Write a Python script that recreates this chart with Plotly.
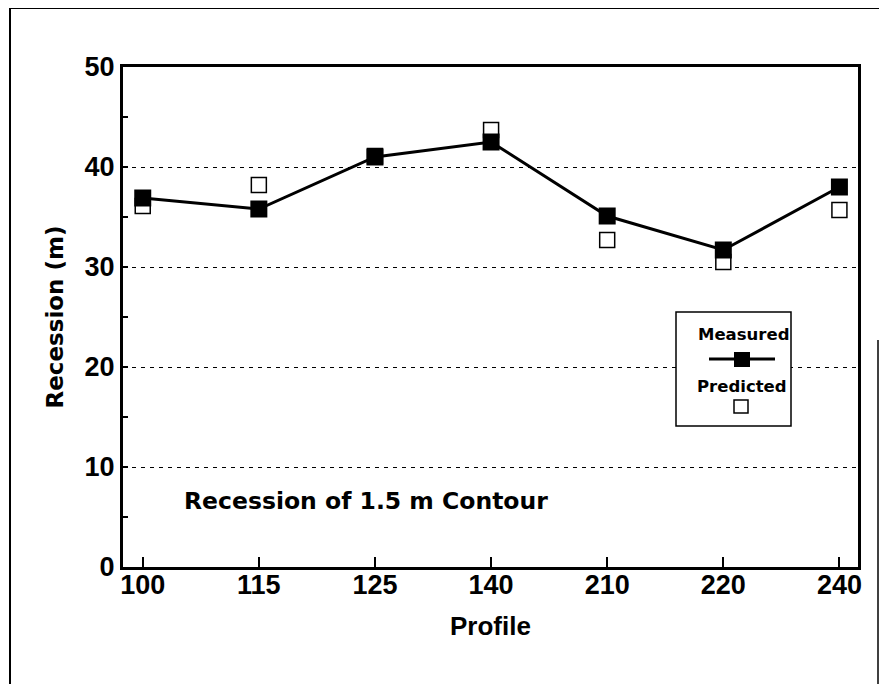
import plotly.graph_objects as go

profiles = ["100", "115", "125", "140", "210", "220", "240"]
measured = [36.9, 35.8, 41.0, 42.5, 35.1, 31.7, 38.0]
predicted = [36.1, 38.2, 41.1, 43.7, 32.7, 30.5, 35.7]
y_ticks = [0, 10, 20, 30, 40, 50]

WIN_W, WIN_H = 887, 692
OFF = 8  # page body margin on every side
W, H = WIN_W - 2 * OFF, WIN_H - 2 * OFF
L, R, T, B = 123, 858, 67, 567  # plot area in window pixels

def px(x):
    return (x - L) / (R - L)

def py(y):
    return (B - y) / (B - T)

ARIAL = "Liberation Sans, Arial, sans-serif"
WIDE = "DejaVu Sans, Verdana, sans-serif"

fig = go.Figure()
fig.add_trace(go.Scatter(
    x=profiles, y=predicted, mode="markers", name="Predicted",
    marker=dict(symbol="square", size=15, color="white",
                line=dict(color="black", width=1.5)),
))
fig.add_trace(go.Scatter(
    x=profiles, y=measured, mode="lines+markers", name="Measured",
    line=dict(color="black", width=3),
    marker=dict(symbol="square", size=17, color="black"),
))

shapes = [
    # outer frame
    dict(type="line", xref="paper", yref="paper",
         x0=px(10), x1=px(10), y0=py(690), y1=py(8),
         line=dict(color="black", width=2), layer="below"),
    dict(type="line", xref="paper", yref="paper",
         x0=px(10), x1=px(880), y0=py(8), y1=py(8),
         line=dict(color="black", width=2), layer="below"),
    dict(type="line", xref="paper", yref="paper",
         x0=px(878), x1=px(878), y0=py(690), y1=py(340),
         line=dict(color="black", width=1.5), layer="below"),
    # legend box
    dict(type="rect", xref="paper", yref="paper",
         x0=px(676), x1=px(791), y0=py(426), y1=py(312),
         line=dict(color="black", width=1.5), fillcolor="white"),
    dict(type="line", xref="paper", yref="paper",
         x0=px(709), x1=px(775), y0=py(359), y1=py(359),
         line=dict(color="black", width=3)),
    dict(type="rect", xref="paper", yref="paper",
         x0=px(734), x1=px(750), y0=py(367), y1=py(352),
         line=dict(color="black", width=0), fillcolor="black"),
    dict(type="rect", xref="paper", yref="paper",
         x0=px(734), x1=px(748), y0=py(413), y1=py(400),
         line=dict(color="black", width=1.5), fillcolor="white"),
]

annotations = [
    dict(text="<b>Measured</b>", xref="paper", yref="paper", x=px(743), y=py(334),
         xanchor="center", yanchor="middle", showarrow=False,
         font=dict(size=16.5, family=WIDE, color="black")),
    dict(text="<b>Predicted</b>", xref="paper", yref="paper", x=px(742), y=py(386),
         xanchor="center", yanchor="middle", showarrow=False,
         font=dict(size=16.5, family=WIDE, color="black")),
    dict(text="<b>Recession of 1.5 m Contour</b>", xref="paper", yref="paper",
         x=px(182), y=py(501), xanchor="left", yanchor="middle", showarrow=False,
         font=dict(size=23.5, family=WIDE, color="black")),
]

fig.update_layout(
    width=W, height=H,
    margin=dict(l=L - OFF, r=WIN_W - OFF - R, t=T - OFF, b=WIN_H - OFF - B, pad=0),
    paper_bgcolor="white", plot_bgcolor="white",
    showlegend=False,
    font=dict(family=ARIAL, color="black"),
    shapes=shapes, annotations=annotations,
)
fig.update_xaxes(
    type="category", range=[-0.17, 6.16],
    showline=True, linecolor="black", linewidth=3, mirror=True,
    ticks="inside", ticklen=10, tickwidth=1.5, tickcolor="black",
    showgrid=False, zeroline=False,
    ticklabelstandoff=-8,
    tickfont=dict(size=27, family=ARIAL, color="black", weight="bold"),
    title=dict(text="<b>Profile</b>", font=dict(size=26, family=ARIAL), standoff=18),
)
fig.update_yaxes(
    range=[0, 50], tickvals=y_ticks,
    showline=True, linecolor="black", linewidth=3, mirror=True,
    ticks="inside", ticklen=5, tickwidth=1.5, tickcolor="black",
    minor=dict(dtick=5, ticks="inside", ticklen=5, tickwidth=1.5, tickcolor="black", showgrid=False),
    showgrid=True, gridcolor="black", gridwidth=1.3, griddash="4px,5px",
    zeroline=False,
    tickfont=dict(size=27, family=ARIAL, color="black", weight="bold"),
    title=dict(text="<b>Recession (m)</b>", font=dict(size=23, family=WIDE), standoff=15),
)

fig.write_html("out.html")
